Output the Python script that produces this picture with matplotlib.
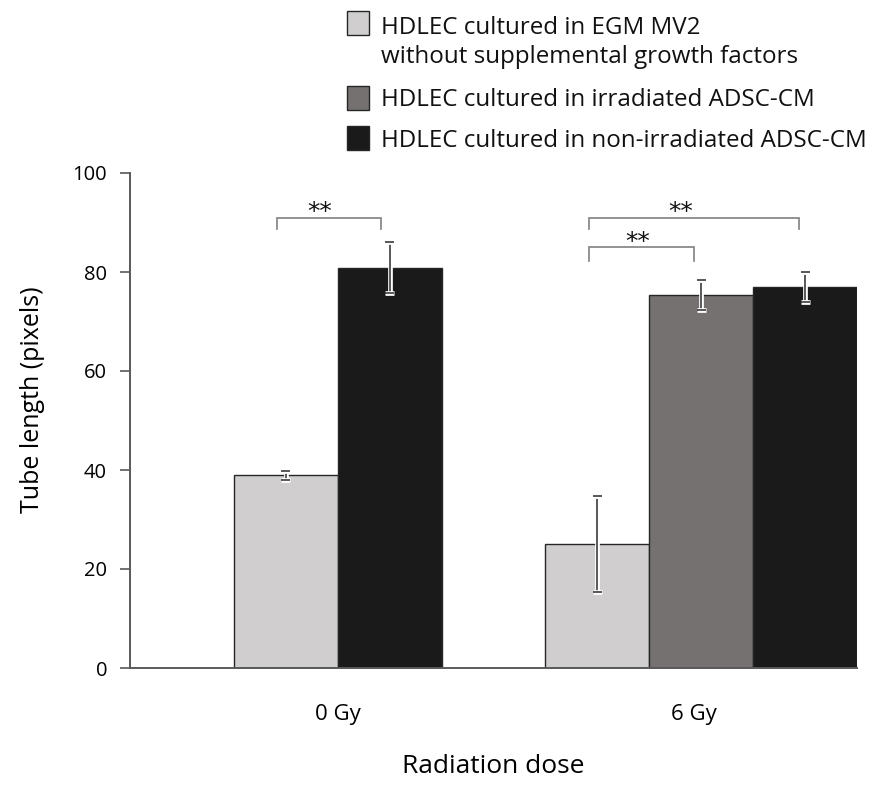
import matplotlib
matplotlib.use("Agg")
import matplotlib.pyplot as plt
import matplotlib.patheffects as pe
from matplotlib.patches import Rectangle

plt.rcParams['font.family'] = ['Open Sans', 'DejaVu Sans']

# ---- data ----
doses = ["0 Gy", "6 Gy"]
series_labels = [
    ["HDLEC cultured in EGM MV2", "without supplemental growth factors"],
    ["HDLEC cultured in irradiated ADSC-CM"],
    ["HDLEC cultured in non-irradiated ADSC-CM"],
]
series_colors = ["#d0cece", "#757171", "#1a1a1a"]
# None = condition not measured at that dose
means = [
    [38.9, 25.0],   # EGM MV2 without growth factors
    [None, 75.3],   # irradiated ADSC-CM
    [80.9, 77.0],   # non-irradiated ADSC-CM
]
errors = [
    [0.9, 9.7],
    [None, 3.05],
    [5.1, 3.0],
]
# significance brackets: (x_left, x_right, y_top, y_drop, label_x, label)
brackets = [
    (1.42, 2.42, 91.0, 88.6, 1.83, "**"),
    (4.42, 6.44, 91.0, 88.6, 5.30, "**"),
    (4.42, 5.43, 85.0, 82.3, 4.89, "**"),
]

W, H = 873, 789
fig = plt.figure(figsize=(W / 100, H / 100), dpi=100)
ax = fig.add_axes([130 / W, 1 - 668 / H, (857 - 130) / W, (668 - 173) / H])

bar_w = 1.0
# left edge of each bar slot, per series and dose
slots = [
    [1, 4],
    [None, 5],
    [2, 6],
]
halo = [pe.Stroke(linewidth=3.4, foreground="white"), pe.Normal()]

for s in range(3):
    for d in range(2):
        v = means[s][d]
        if v is None:
            continue
        left = slots[s][d]
        ax.bar(left, v, width=bar_w, align="edge", color=series_colors[s],
               edgecolor="#262626", linewidth=1.0, zorder=2)
        cx = left + bar_w / 2
        err = ax.errorbar(cx, v, yerr=errors[s][d], fmt="none",
                          ecolor="#3c3c3c", elinewidth=1.2, capsize=3.2,
                          capthick=1.2, zorder=3)
        for art in err.lines[1] + tuple(err.lines[2]):
            art.set_path_effects(halo)

for xl, xr, yt, yb, lx, lab in brackets:
    ax.plot([xl, xl, xr, xr], [yb, yt, yt, yb], color="#808080",
            linewidth=1.2, solid_joinstyle="miter", clip_on=False, zorder=4)
    ax.text(lx, yt - 0.3, lab, ha="center", va="baseline",
            fontsize=18, color="#111111", family="DejaVu Sans")

ax.set_xlim(0, 7)
ax.set_ylim(0, 100)
ax.set_yticks([0, 20, 40, 60, 80, 100])
ax.set_xticks([2, 5.43])
ax.set_xticklabels(doses)
ax.tick_params(axis="y", direction="out", length=7.5, width=1.2,
               color="#595959", labelsize=14.5, pad=9)
ax.tick_params(axis="x", length=0, labelsize=16, pad=26)

for side in ("top", "right"):
    ax.spines[side].set_visible(False)
for side in ("left", "bottom"):
    ax.spines[side].set_color("#595959")
    ax.spines[side].set_linewidth(1.4)

ax.set_ylabel("Tube length (pixels)", fontsize=18, labelpad=20)
ax.yaxis.label.set_y((668 - 400) / (668 - 173))
ax.set_xlabel("Radiation dose", fontsize=19, labelpad=21)

# legend drawn in figure pixel coordinates
square_tops = [11, 86, 126]
baselines = [[34.3, 63.3], [106], [146.7]]
for s in range(3):
    fig.patches.append(Rectangle((347 / W, 1 - (square_tops[s] + 24) / H), 22 / W, 24 / H,
                                 transform=fig.transFigure, facecolor=series_colors[s],
                                 edgecolor="#262626", linewidth=1.0))
    for line, yb in zip(series_labels[s], baselines[s]):
        fig.text(381 / W, 1 - yb / H, line, ha="left", va="baseline",
                 fontsize=17.4, color="#111111")

fig.savefig("out.png", dpi=100)
